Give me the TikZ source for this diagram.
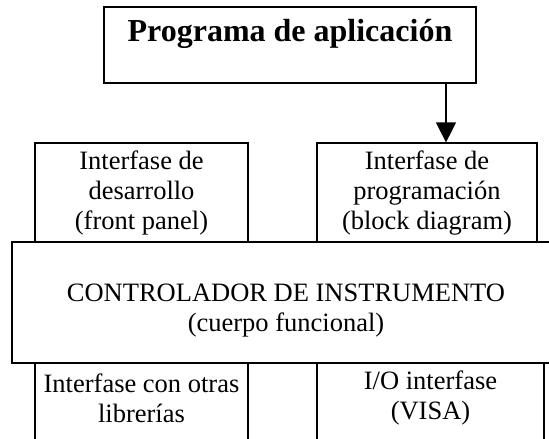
\documentclass[tikz,border=0pt]{standalone}
\usepackage{fontspec}
\setmainfont{Liberation Serif}
\usetikzlibrary{arrows.meta}
\begin{document}
\begin{tikzpicture}[x=1pt,y=-1pt,
  box/.style={draw=black,line width=1.2pt,rectangle,inner sep=0pt,minimum width=#1},
  txt/.style={align=center,font=\fontsize{26.5}{30}\selectfont,inner sep=0pt},
  ttl/.style={font=\fontsize{32}{36}\bfseries\selectfont,inner sep=0pt},
  arr/.style={-{Triangle[width=20pt,length=20pt]},line width=1.2pt}]
\useasboundingbox (0,0) rectangle (549,439);
\fill[white] (0,0) rectangle (549,439);
% top box
\node[box=372pt,minimum height=76pt] (prog) at (290,45) {};
\node[ttl] (progt) at (290,34) {Programa de aplicación};
% upper boxes
\node[box=213pt,minimum height=99pt] (front) at (141.5,192.5) {};
\node[txt] (frontt) at (141.5,193) {Interfase de\\desarrollo\\(front panel)};
\node[box=220pt,minimum height=99pt] (block) at (427,192.5) {};
\node[txt] (blockt) at (427,193) {Interfase de\\programación\\(block diagram)};
% lower boxes
\node[box=213pt,minimum height=90pt] (libs) at (141.5,408) {};
\node[txt] (libst) at (141.5,398) {Interfase con otras\\librerías};
\node[box=227pt,minimum height=90pt] (visa) at (430.5,408) {};
\node[txt] (visat) at (430.5,398) {I/O interfase\\(VISA)};
% big box
\node[box=548pt,minimum height=121pt,fill=white,line width=1.6pt] (ctrl) at (286,302.5) {};
\node[txt] (ctrlt) at (286,311) {CONTROLADOR DE INSTRUMENTO\\(cuerpo funcional)};
% arrow
\draw[arr] (prog.south -| 446,0) -- (block.north -| 446,0);
\end{tikzpicture}
\end{document}
